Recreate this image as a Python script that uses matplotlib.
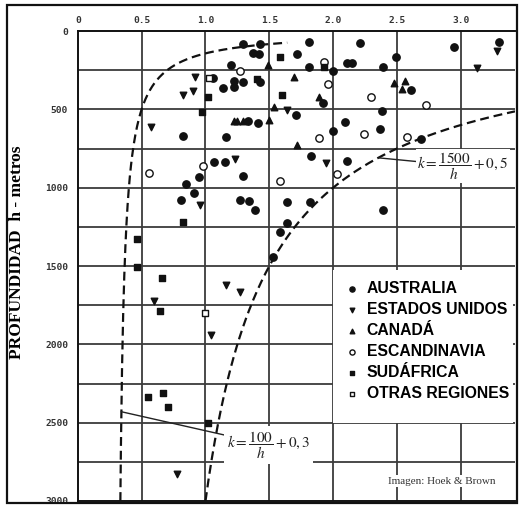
import numpy as np
import matplotlib.pyplot as plt
from matplotlib.patches import Rectangle

plt.rcParams['mathtext.fontset'] = 'stix'

# k values (x) and depth h in metres (y) per region
aus_k = [1.20, 1.29, 1.43, 1.37, 1.42, 1.72, 1.81, 2.21, 2.95, 3.30, 2.49, 2.39, 1.81,
         2.11, 2.15, 2.00, 1.06, 1.14, 1.22, 1.22, 1.29, 1.43, 1.92, 2.61, 1.33, 1.41,
         1.71, 2.09, 2.00, 2.37, 2.38, 2.69, 0.82, 1.16, 1.07, 1.15, 1.83, 2.11, 0.95,
         1.29, 0.85, 0.91, 0.81, 1.27, 1.34, 1.39, 1.64, 1.82, 2.39, 1.64, 1.58, 1.53]
aus_h = [220, 85, 85, 140, 147, 145, 70, 77, 102, 70, 166, 230, 230,
         204, 204, 255, 300, 364, 358, 319, 326, 326, 460, 377, 575, 587,
         536, 581, 638, 626, 511, 690, 670, 677, 836, 836, 798, 830, 932,
         926, 977, 1034, 1079, 1079, 1085, 1143, 1092, 1092, 1143, 1226, 1283, 1440]

usa_k = [0.92, 0.90, 0.82, 0.57, 1.23, 0.96, 1.64, 1.94, 3.28, 3.13, 0.60, 1.16, 1.27, 1.04, 0.78]
usa_h = [294, 383, 409, 613, 817, 1111, 504, 843, 128, 236, 1724, 1622, 1667, 1941, 2829]

can_k = [1.49, 1.69, 1.89, 1.54, 1.22, 1.25, 1.29, 1.50, 1.72, 2.48, 2.56, 2.54]
can_h = [217, 294, 421, 485, 575, 575, 575, 568, 728, 332, 319, 370]

esc_k = [1.27, 1.93, 1.96, 2.30, 2.73, 1.89, 2.24, 2.58, 2.03, 1.58, 0.98, 0.56]
esc_h = [255, 198, 338, 421, 472, 683, 658, 677, 913, 958, 862, 907]

saf_k = [1.02, 0.97, 1.40, 1.58, 1.93, 1.60, 0.82, 0.46, 0.46, 0.66, 0.64, 0.55, 0.67, 0.71, 1.02]
saf_h = [421, 517, 306, 166, 230, 409, 1220, 1328, 1507, 1577, 1788, 2337, 2311, 2401, 2503]

otr_k = [1.03, 1.00]
otr_h = [300, 1800]

x_ticks = [0, 0.5, 1.0, 1.5, 2.0, 2.5, 3.0]
x_labels = ['0', '0.5', '1.0', '1.5', '2.0', '2.5', '3.0']
y_ticks = [0, 500, 1000, 1500, 2000, 2500, 3000]

fig = plt.figure(figsize=(5.21, 5.07), dpi=100)
ax = fig.add_axes([77.8 / 521, 1 - 501 / 507, (515 - 77.8) / 521, (501 - 31) / 507])

ax.set_xlim(0, 3.424)
ax.set_ylim(3000, 0)

# grid
for gx in np.arange(0.5, 3.01, 0.5):
    ax.axvline(gx, color='#3c3c3c', lw=1.3, zorder=1)
for gy in np.arange(250, 2751, 250):
    ax.axhline(gy, color='#3c3c3c', lw=1.3, zorder=1)

ax.xaxis.tick_top()
ax.set_xticks(x_ticks)
ax.set_xticklabels(x_labels)
ax.set_yticks(y_ticks)
ax.tick_params(length=0, labelsize=6.8, labelcolor='#333333')
ax.tick_params(axis='x', pad=4)
ax.tick_params(axis='y', pad=7)
for lab in ax.get_xticklabels() + ax.get_yticklabels():
    lab.set_fontfamily('DejaVu Sans Mono')
    lab.set_fontweight('bold')
for sp in ax.spines.values():
    sp.set_linewidth(1.4)
    sp.set_color('#111111')
ax.spines['right'].set_visible(False)

ax.set_ylabel('PROFUNDIDAD  h - metros', fontfamily='Liberation Serif',
              fontweight='bold', fontsize=12.5)
ax.yaxis.set_label_coords(-0.121, 0.53)

# limit curves
k1 = np.linspace(100 / 3000 + 0.3, 1.64, 300)
ax.plot(k1, 100 / (k1 - 0.3), color='#111111', lw=1.6, dashes=(4, 2.2), zorder=3)
k2 = np.linspace(1.0, 3.424, 300)
ax.plot(k2, 1500 / (k2 - 0.5), color='#111111', lw=1.6, dashes=(4, 2.2), zorder=3)

c = '#111111'
ax.scatter(aus_k, aus_h, marker='o', s=28, color=c, zorder=4, label='AUSTRALIA')
ax.scatter(usa_k, usa_h, marker='v', s=22, color=c, zorder=4, label='ESTADOS UNIDOS')
ax.scatter(can_k, can_h, marker='^', s=22, color=c, zorder=4, label='CANADÁ')
ax.scatter(esc_k, esc_h, marker='o', s=28, facecolor='white', edgecolor=c, lw=1.0,
           zorder=4, label='ESCANDINAVIA')
ax.scatter(saf_k, saf_h, marker='s', s=24, color=c, zorder=4, label='SUDÁFRICA')
ax.scatter(otr_k, otr_h, marker='s', s=20, facecolor='white', edgecolor=c, lw=1.0,
           zorder=4, label='OTRAS REGIONES')

# white legend panel
ax.add_patch(Rectangle((0.584, 0.166), 0.411, 0.325, transform=ax.transAxes,
                       fc='white', ec='none', zorder=5))
leg = ax.legend(loc='upper left', bbox_to_anchor=(0.609, 0.468), frameon=False,
                borderaxespad=0, borderpad=0, handlelength=1.0, handletextpad=0.45,
                labelspacing=0.38, markerscale=0.7,
                prop={'family': 'Liberation Sans', 'weight': 'bold', 'size': 11.3})
leg.set_zorder(6)

ax.annotate(r'$k=\dfrac{1500}{h}+0,5$', xy=(2.36, 810), xytext=(2.66, 862),
            ha='left', va='center', fontsize=11, color='#222222', zorder=5,
            bbox=dict(fc='white', ec='none', pad=1),
            arrowprops=dict(arrowstyle='-', color='#222222', lw=1.0, shrinkA=0, shrinkB=0))
ax.annotate(r'$k=\dfrac{100}{h}+0,3$', xy=(0.34, 2430), xytext=(1.17, 2643),
            ha='left', va='center', fontsize=11, color='#222222', zorder=5,
            bbox=dict(fc='white', ec='none', pad=2),
            arrowprops=dict(arrowstyle='-', color='#222222', lw=1.0, shrinkA=0, shrinkB=0))

ax.text(2.43, 2873, 'Imagen: Hoek & Brown', fontfamily='Liberation Serif', fontsize=8,
        color='#333333', va='center', ha='left', zorder=5,
        bbox=dict(fc='white', ec='none', pad=1))

# outer frame of the image
fig.add_artist(Rectangle((7 / 521, 4 / 507), 510 / 521, 498 / 507, transform=fig.transFigure,
                         fill=False, lw=1.6, ec='#111111'))

plt.savefig('out.png', dpi=100)
plt.close()
